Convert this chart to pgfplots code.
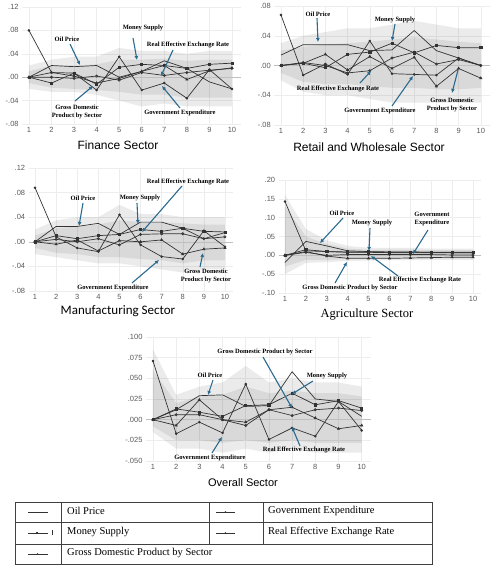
\documentclass[border=0pt]{standalone}
\usepackage{fontspec}
\setmainfont{Liberation Serif}
\setsansfont{Liberation Sans}
\newfontfamily\calfont{Carlito}
\usepackage{pgfplots}
\pgfplotsset{compat=1.18}

\definecolor{arr}{HTML}{2B6A8F}
\definecolor{lin}{HTML}{333333}

\pgfplotsset{
  irf/.style={
    scale only axis, anchor=south west,
    xmin=0.7, xmax=10.4, xtick={1,...,10},
    scaled ticks=false,
    axis line style={draw=none}, tick style={draw=none},
    grid=major, major grid style={black!7, line width=0.5pt},
    /pgf/number format/assume math mode=true,
    ticklabel style={font=\sffamily\fontsize{7.5}{8}\selectfont, text=black!65},
    clip=false,
  },
  band/.style={draw=none, fill=black, fill opacity=0.08, forget plot},
  oil/.style={lin, line width=0.7pt, mark=none},
  ms/.style={lin, line width=0.7pt, mark=square*, mark size=1.1pt},
  gdp/.style={lin, line width=0.7pt, mark=triangle*, mark size=1.2pt},
  ge/.style={lin, line width=0.7pt, mark=*, mark size=0.9pt},
  reer/.style={lin, line width=0.7pt, mark=o, mark size=1.1pt, mark options={fill=white}},
}

\tikzset{
  ann/.style={font=\bfseries\fontsize{6.5}{7.5}\selectfont, align=center, inner sep=0pt},
  arw/.style={arr, line width=1.1pt, -{Latex[length=4pt,width=4pt]}},
}
\usetikzlibrary{arrows.meta}

\begin{document}
\begin{tikzpicture}
\path[use as bounding box] (0,0) rectangle (491pt,566pt);

% ---------------- Finance
\begin{axis}[irf, at={(22.2pt,442pt)}, width=218.8pt, height=117pt,
  ymin=-0.08, ymax=0.12, ytick={-0.08,-0.04,0,0.04,0.08,0.12},
  yticklabels={-.08,-.04,.00,.04,.08,.12}]
\addplot[band] coordinates {(1,0.02)(2,0.03)(3,0.035)(4,0.035)(5,0.05)(6,0.045)(7,0.045)(8,0.04)(9,0.045)(10,0.045)
  (10,-0.05)(9,-0.05)(8,-0.05)(7,-0.045)(6,-0.05)(5,-0.04)(4,-0.03)(3,-0.025)(2,-0.025)(1,-0.02)} -- cycle;
\addplot[band] coordinates {(1,0.01)(2,0.02)(3,0.02)(4,0.022)(5,0.03)(6,0.03)(7,0.032)(8,0.028)(9,0.03)(10,0.03)
  (10,-0.035)(9,-0.035)(8,-0.035)(7,-0.03)(6,-0.03)(5,-0.025)(4,-0.022)(3,-0.02)(2,-0.018)(1,-0.01)} -- cycle;
\draw[black!25, line width=0.6pt] (axis cs:0.7,0) -- (axis cs:10.4,0);
\addplot[oil] coordinates {(1,0)(2,0.02)(3,0.018)(4,0.02)(5,0.0)(6,0.01)(7,0.028)(8,0.015)(9,-0.008)(10,-0.02)};
\addplot[ms] coordinates {(1,0)(2,-0.01)(3,0.007)(4,-0.012)(5,0.017)(6,0.022)(7,0.02)(8,0.015)(9,0.022)(10,0.024)};
\addplot[reer] coordinates {(1,0)(2,0.0)(3,-0.002)(4,0.002)(5,-0.005)(6,0.008)(7,0.003)(8,0.008)(9,0.012)(10,0.015)};
\addplot[gdp] coordinates {(1,0)(2,0.008)(3,0.002)(4,-0.01)(5,-0.002)(6,0.01)(7,0.02)(8,-0.004)(9,0.011)(10,0.016)};
\addplot[ge] coordinates {(1,0.08)(2,0.008)(3,0.007)(4,-0.022)(5,0.035)(6,-0.022)(7,-0.01)(8,-0.036)(9,0.013)(10,-0.02)};
\end{axis}

% ---------------- Retail and Wholesale
\begin{axis}[irf, at={(274.3pt,441pt)}, width=215.4pt, height=119pt,
  ymin=-0.08, ymax=0.08, ytick={-0.08,-0.04,0,0.04,0.08},
  yticklabels={-.08,-.04,.00,.04,.08}]
\addplot[band] coordinates {(1,0.03)(2,0.04)(3,0.045)(4,0.05)(5,0.05)(6,0.055)(7,0.06)(8,0.055)(9,0.05)(10,0.05)
  (10,-0.05)(9,-0.05)(8,-0.05)(7,-0.05)(6,-0.05)(5,-0.045)(4,-0.04)(3,-0.04)(2,-0.035)(1,-0.02)} -- cycle;
\addplot[band] coordinates {(1,0.02)(2,0.025)(3,0.028)(4,0.03)(5,0.032)(6,0.035)(7,0.038)(8,0.035)(9,0.032)(10,0.03)
  (10,-0.03)(9,-0.032)(8,-0.032)(7,-0.03)(6,-0.03)(5,-0.028)(4,-0.025)(3,-0.025)(2,-0.022)(1,-0.01)} -- cycle;
\draw[black!25, line width=0.6pt] (axis cs:0.7,0) -- (axis cs:10.4,0);
\addplot[oil] coordinates {(1,0.014)(2,0.028)(3,0.028)(4,0.028)(5,0.02)(6,0.021)(7,0.047)(8,0.02)(9,0.01)(10,0.0)};
\addplot[ms] coordinates {(1,0)(2,0.003)(3,-0.003)(4,0.015)(5,0.018)(6,0.03)(7,0.017)(8,0.027)(9,0.024)(10,0.024)};
\addplot[reer] coordinates {(1,0)(2,0.004)(3,0.0)(4,-0.01)(5,-0.007)(6,0.01)(7,0.018)(8,0.002)(9,0.008)(10,0.0)};
\addplot[gdp] coordinates {(1,0)(2,0.003)(3,0.015)(4,-0.006)(5,0.012)(6,-0.004)(7,0.011)(8,-0.028)(9,-0.004)(10,-0.017)};
\addplot[ge] coordinates {(1,0.068)(2,-0.013)(3,0.002)(4,-0.012)(5,0.033)(6,-0.011)(7,-0.012)(8,-0.013)(9,0.01)(10,0.0)};
\end{axis}

% ---------------- Manufacturing
\begin{axis}[irf, at={(28.7pt,275pt)}, width=204.7pt, height=123pt,
  ymin=-0.08, ymax=0.12, ytick={-0.08,-0.04,0,0.04,0.08,0.12},
  yticklabels={-.08,-.04,.00,.04,.08,.12}]
\addplot[band] coordinates {(1,0.02)(2,0.035)(3,0.04)(4,0.04)(5,0.06)(6,0.045)(7,0.045)(8,0.04)(9,0.04)(10,0.04)
  (10,-0.045)(9,-0.045)(8,-0.05)(7,-0.045)(6,-0.04)(5,-0.035)(4,-0.035)(3,-0.03)(2,-0.025)(1,-0.02)} -- cycle;
\addplot[band] coordinates {(1,0.01)(2,0.022)(3,0.025)(4,0.028)(5,0.035)(6,0.032)(7,0.032)(8,0.03)(9,0.028)(10,0.028)
  (10,-0.03)(9,-0.03)(8,-0.035)(7,-0.03)(6,-0.028)(5,-0.025)(4,-0.025)(3,-0.02)(2,-0.018)(1,-0.01)} -- cycle;
\draw[black!25, line width=0.6pt] (axis cs:0.7,0) -- (axis cs:10.4,0);
\addplot[oil] coordinates {(1,0)(2,0.025)(3,0.025)(4,0.03)(5,0.012)(6,0.032)(7,0.032)(8,0.022)(9,0.005)(10,0.015)};
\addplot[ms] coordinates {(1,0)(2,0.01)(3,0.005)(4,0.01)(5,0.012)(6,0.02)(7,0.017)(8,0.022)(9,0.017)(10,0.016)};
\addplot[reer] coordinates {(1,0)(2,0.004)(3,0.0)(4,0.005)(5,-0.005)(6,0.012)(7,0.013)(8,0.013)(9,0.005)(10,0.008)};
\addplot[gdp] coordinates {(1,0)(2,-0.004)(3,0.003)(4,-0.015)(5,0.002)(6,0.0)(7,0.003)(8,-0.02)(9,-0.012)(10,-0.01)};
\addplot[ge] coordinates {(1,0.088)(2,0.008)(3,-0.01)(4,-0.016)(5,0.044)(6,-0.005)(7,-0.024)(8,-0.028)(9,0.018)(10,-0.008)};
\end{axis}

% ---------------- Agriculture
\begin{axis}[irf, at={(278.7pt,273pt)}, width=202.7pt, height=113pt,
  ymin=-0.10, ymax=0.20, ytick={-0.10,-0.05,0,0.05,0.10,0.15,0.20},
  yticklabels={-.10,-.05,.00,.05,.10,.15,.20}]
\addplot[band] coordinates {(1,0.16)(2,0.07)(3,0.04)(4,0.025)(5,0.02)(6,0.02)(7,0.02)(8,0.018)(9,0.018)(10,0.018)
  (10,-0.012)(9,-0.012)(8,-0.012)(7,-0.013)(6,-0.013)(5,-0.014)(4,-0.015)(3,-0.018)(2,-0.02)(1,-0.05)} -- cycle;
\addplot[band] coordinates {(1,0.13)(2,0.05)(3,0.03)(4,0.018)(5,0.015)(6,0.015)(7,0.015)(8,0.014)(9,0.014)(10,0.014)
  (10,-0.008)(9,-0.008)(8,-0.008)(7,-0.009)(6,-0.009)(5,-0.01)(4,-0.01)(3,-0.012)(2,-0.012)(1,-0.03)} -- cycle;
\draw[black!25, line width=0.6pt] (axis cs:0.7,0) -- (axis cs:10.4,0);
\addplot[oil] coordinates {(1,-0.019)(2,0.037)(3,0.025)(4,0.012)(5,0.01)(6,0.009)(7,0.009)(8,0.008)(9,0.008)(10,0.008)};
\addplot[ms] coordinates {(1,0)(2,0.015)(3,0.01)(4,0.009)(5,0.009)(6,0.008)(7,0.008)(8,0.008)(9,0.007)(10,0.007)};
\addplot[reer] coordinates {(1,0)(2,0.008)(3,0.0)(4,0.002)(5,0.002)(6,0.002)(7,0.002)(8,0.002)(9,0.001)(10,0.001)};
\addplot[gdp] coordinates {(1,0)(2,0.01)(3,-0.002)(4,-0.008)(5,-0.008)(6,-0.008)(7,-0.007)(8,-0.006)(9,-0.005)(10,-0.005)};
\addplot[ge] coordinates {(1,0.143)(2,0.012)(3,0.01)(4,0.008)(5,0.008)(6,0.007)(7,0.007)(8,0.007)(9,0.007)(10,0.007)};
\end{axis}

% ---------------- Overall
\begin{axis}[irf, at={(146pt,105pt)}, width=225pt, height=124pt,
  ymin=-0.05, ymax=0.10, ytick={-0.05,-0.025,0,0.025,0.05,0.075,0.10},
  yticklabels={-.050,-.025,.000,.025,.050,.075,.100}]
\addplot[band] coordinates {(1,0.085)(2,0.03)(3,0.04)(4,0.045)(5,0.065)(6,0.045)(7,0.05)(8,0.045)(9,0.045)(10,0.04)
  (10,-0.04)(9,-0.04)(8,-0.04)(7,-0.035)(6,-0.04)(5,-0.035)(4,-0.04)(3,-0.035)(2,-0.035)(1,-0.015)} -- cycle;
\addplot[band] coordinates {(1,0.06)(2,0.02)(3,0.028)(4,0.03)(5,0.04)(6,0.032)(7,0.035)(8,0.032)(9,0.032)(10,0.028)
  (10,-0.028)(9,-0.028)(8,-0.028)(7,-0.025)(6,-0.028)(5,-0.025)(4,-0.028)(3,-0.025)(2,-0.025)(1,-0.008)} -- cycle;
\draw[black!25, line width=0.6pt] (axis cs:0.7,0) -- (axis cs:10.4,0);
\addplot[oil] coordinates {(1,0)(2,0.012)(3,0.029)(4,0.03)(5,0.016)(6,0.017)(7,0.058)(8,0.025)(9,0.022)(10,0.004)};
\addplot[ms] coordinates {(1,0)(2,0.013)(3,0.009)(4,0.004)(5,0.017)(6,0.018)(7,0.032)(8,0.018)(9,0.023)(10,0.014)};
\addplot[reer] coordinates {(1,0)(2,0.006)(3,0.006)(4,0.0)(5,-0.007)(6,0.012)(7,0.005)(8,0.012)(9,0.014)(10,0.011)};
\addplot[gdp] coordinates {(1,0)(2,-0.007)(3,0.024)(4,0.0)(5,-0.003)(6,0.012)(7,0.015)(8,0.002)(9,-0.011)(10,-0.007)};
\addplot[ge] coordinates {(1,0.071)(2,-0.017)(3,-0.003)(4,-0.016)(5,0.043)(6,-0.024)(7,-0.01)(8,-0.02)(9,0.022)(10,-0.013)};
\end{axis}

% ---------------- titles, annotations and legend table (pixel coordinates, y downwards)
\begin{scope}[shift={(0,566pt)}, x=1pt, y=-1pt]
\node[font=\sffamily\fontsize{12}{13}\selectfont] at (118,145) {Finance Sector};
\node[font=\sffamily\fontsize{12}{13}\selectfont] at (369,147) {Retail and Wholesale Sector};
\node[font=\calfont\fontsize{13}{14}\selectfont] at (118,311) {Manufacturing Sector};
\node[font=\fontsize{12.5}{13}\selectfont] at (367,315) {Agriculture Sector};
\node[font=\sffamily\fontsize{11}{12}\selectfont] at (243,483) {Overall Sector};

% Finance
\node[ann] at (67,39) {Oil Price};
\draw[arw] (70,44) -- (80,65);
\node[ann] at (143,28) {Money Supply};
\draw[arw] (133,38) -- (137,60);
\node[ann] at (188,45) {Real Effective Exchange Rate};
\draw[arw] (173,50) -- (161,76);
\node[ann] at (77,112) {Gross Domestic\\Product by Sector};
\draw[arw] (75,101) -- (93,86);
\node[ann] at (180,113) {Government Expenditure};
\draw[arw] (180,108) -- (162,86);

% Retail
\node[ann] at (318,14) {Oil Price};
\draw[arw] (317,18) -- (318,42);
\node[ann] at (395,20) {Money Supply};
\draw[arw] (395,24) -- (392,41);
\node[ann] at (338,89) {Real Effective Exchange Rate};
\draw[arw] (360,83) -- (371,71);
\node[ann] at (380,111) {Government Expenditure};
\draw[arw] (392,106) -- (413,76);
\node[ann] at (452,105) {Gross Domestic\\Product by Sector};
\draw[arw] (458,70) -- (452,93);

% Manufacturing
\node[ann] at (83,198) {Oil Price};
\draw[arw] (83,203) -- (79,226);
\node[ann] at (140,198) {Money Supply};
\draw[arw] (137,203) -- (138,224);
\node[ann] at (188,182) {Real Effective Exchange Rate};
\draw[arw] (182,186) -- (142,232);
\node[ann] at (113,288) {Government Expenditure};
\draw[arw] (132,283) -- (159,260);
\node[ann] at (206,276) {Gross Domestic\\Product by Sector};
\draw[arw] (200,267) -- (203,253);

% Agriculture
\node[ann] at (342,213) {Oil Price};
\draw[arw] (343,218) -- (320,243);
\node[ann] at (372,223) {Money Supply};
\draw[arw] (370,228) -- (369,251);
\node[ann] at (432,219) {Government\\Expenditure};
\draw[arw] (428,230) -- (413,254);
\node[ann] at (420,280) {Real Effective Exchange Rate};
\draw[arw] (398,276) -- (371,256);
\node[ann] at (350,288) {Gross Domestic Product by Sector};
\draw[arw] (335,283) -- (347,262);

% Overall
\node[ann] at (210,375) {Oil Price};
\draw[arw] (213,380) -- (208,395);
\node[ann] at (327,376) {Money Supply};
\draw[arw] (313,381) -- (292,394);
\node[ann] at (265,352) {Gross Domestic Product by Sector};
\draw[arw] (263,357) -- (292,408);
\node[ann] at (304,450) {Real Effective Exchange Rate};
\draw[arw] (300,446) -- (292,427);
\node[ann] at (210,458) {Government Expenditure};
\draw[arw] (212,453) -- (222,437);

% legend table
\begin{scope}[black!75, line width=0.6pt]
\draw (15,502) rectangle (432,564.5);
\draw (15,522.3) -- (432,522.3);
\draw (15,544.3) -- (432,544.3);
\draw (61.7,502) -- (61.7,564.5);
\draw (209,502) -- (209,544.3);
\draw (263.3,502) -- (263.3,544.3);
\end{scope}
\begin{scope}[lin, line width=0.5pt]
\draw (28,512) -- (48,512);
\draw (216,512) -- (235,512);
\fill (225.5,512) circle (0.8);
\draw (28,533) -- (48,533);
\fill (37,533) ++(-0.9,-0.9) rectangle ++(1.8,1.8);
\draw (52,530.5) -- (52,535.5);
\draw (216,533) -- (235,533);
\fill (225.5,533) circle (0.9);
\draw (28,554) -- (48,554);
\fill (37.5,554) circle (0.8);
\end{scope}
\begin{scope}[font=\fontsize{10.5}{12}\selectfont, anchor=west, inner sep=0pt]
\node[anchor=west] at (67,510.5) {Oil Price};
\node[anchor=west] at (268,510.5) {Government Expenditure};
\node[anchor=west] at (67,532) {Money Supply};
\node[anchor=west] at (268,532) {Real Effective Exchange Rate};
\node[anchor=west] at (67,553) {Gross Domestic Product by Sector};
\end{scope}
\end{scope}
\end{tikzpicture}
\end{document}
